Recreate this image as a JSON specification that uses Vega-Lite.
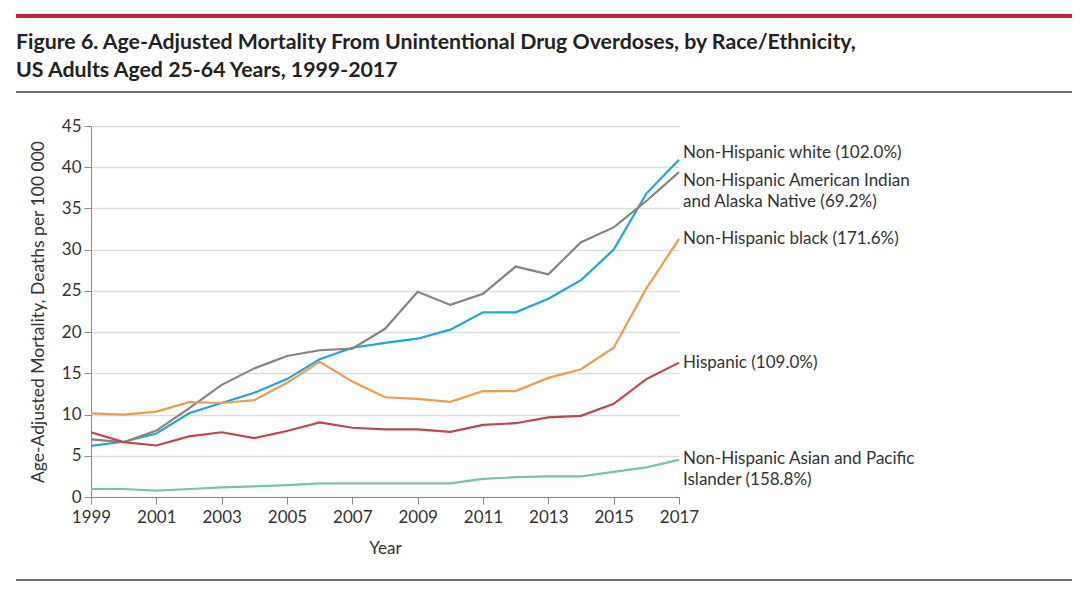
{
  "$schema": "https://vega.github.io/schema/vega-lite/v6.json",
  "padding": {"left": 14, "top": 14, "right": 0, "bottom": 0},
  "background": "white",
  "config": {
    "view": {"stroke": null},
    "font": "Lato",
    "concat": {"spacing": 0}
  },
  "datasets": {
    "series": [
      {"year":1999,"group":"white","value":6.2},{"year":2000,"group":"white","value":6.7},{"year":2001,"group":"white","value":7.7},{"year":2002,"group":"white","value":10.15},{"year":2003,"group":"white","value":11.4},{"year":2004,"group":"white","value":12.65},{"year":2005,"group":"white","value":14.3},{"year":2006,"group":"white","value":16.7},{"year":2007,"group":"white","value":18.1},{"year":2008,"group":"white","value":18.7},{"year":2009,"group":"white","value":19.2},{"year":2010,"group":"white","value":20.3},{"year":2011,"group":"white","value":22.4},{"year":2012,"group":"white","value":22.4},{"year":2013,"group":"white","value":24.05},{"year":2014,"group":"white","value":26.3},{"year":2015,"group":"white","value":30.0},{"year":2016,"group":"white","value":36.8},{"year":2017,"group":"white","value":40.9},
      {"year":1999,"group":"aian","value":7.0},{"year":2000,"group":"aian","value":6.65},{"year":2001,"group":"aian","value":8.05},{"year":2002,"group":"aian","value":10.75},{"year":2003,"group":"aian","value":13.6},{"year":2004,"group":"aian","value":15.6},{"year":2005,"group":"aian","value":17.1},{"year":2006,"group":"aian","value":17.8},{"year":2007,"group":"aian","value":18.0},{"year":2008,"group":"aian","value":20.4},{"year":2009,"group":"aian","value":24.9},{"year":2010,"group":"aian","value":23.3},{"year":2011,"group":"aian","value":24.65},{"year":2012,"group":"aian","value":27.95},{"year":2013,"group":"aian","value":27.0},{"year":2014,"group":"aian","value":30.9},{"year":2015,"group":"aian","value":32.7},{"year":2016,"group":"aian","value":35.9},{"year":2017,"group":"aian","value":39.4},
      {"year":1999,"group":"black","value":10.15},{"year":2000,"group":"black","value":10.0},{"year":2001,"group":"black","value":10.35},{"year":2002,"group":"black","value":11.5},{"year":2003,"group":"black","value":11.4},{"year":2004,"group":"black","value":11.75},{"year":2005,"group":"black","value":13.85},{"year":2006,"group":"black","value":16.4},{"year":2007,"group":"black","value":14.0},{"year":2008,"group":"black","value":12.1},{"year":2009,"group":"black","value":11.9},{"year":2010,"group":"black","value":11.55},{"year":2011,"group":"black","value":12.85},{"year":2012,"group":"black","value":12.85},{"year":2013,"group":"black","value":14.45},{"year":2014,"group":"black","value":15.5},{"year":2015,"group":"black","value":18.1},{"year":2016,"group":"black","value":25.3},{"year":2017,"group":"black","value":31.3},
      {"year":1999,"group":"hispanic","value":7.85},{"year":2000,"group":"hispanic","value":6.65},{"year":2001,"group":"hispanic","value":6.25},{"year":2002,"group":"hispanic","value":7.35},{"year":2003,"group":"hispanic","value":7.85},{"year":2004,"group":"hispanic","value":7.15},{"year":2005,"group":"hispanic","value":8.0},{"year":2006,"group":"hispanic","value":9.05},{"year":2007,"group":"hispanic","value":8.4},{"year":2008,"group":"hispanic","value":8.2},{"year":2009,"group":"hispanic","value":8.2},{"year":2010,"group":"hispanic","value":7.9},{"year":2011,"group":"hispanic","value":8.75},{"year":2012,"group":"hispanic","value":8.95},{"year":2013,"group":"hispanic","value":9.65},{"year":2014,"group":"hispanic","value":9.85},{"year":2015,"group":"hispanic","value":11.3},{"year":2016,"group":"hispanic","value":14.3},{"year":2017,"group":"hispanic","value":16.3},
      {"year":1999,"group":"asian","value":0.97},{"year":2000,"group":"asian","value":0.97},{"year":2001,"group":"asian","value":0.77},{"year":2002,"group":"asian","value":0.97},{"year":2003,"group":"asian","value":1.17},{"year":2004,"group":"asian","value":1.3},{"year":2005,"group":"asian","value":1.45},{"year":2006,"group":"asian","value":1.65},{"year":2007,"group":"asian","value":1.65},{"year":2008,"group":"asian","value":1.65},{"year":2009,"group":"asian","value":1.65},{"year":2010,"group":"asian","value":1.65},{"year":2011,"group":"asian","value":2.2},{"year":2012,"group":"asian","value":2.4},{"year":2013,"group":"asian","value":2.5},{"year":2014,"group":"asian","value":2.5},{"year":2015,"group":"asian","value":3.05},{"year":2016,"group":"asian","value":3.6},{"year":2017,"group":"asian","value":4.5}
    ],
    "labels": [
      {"group":"white","year":2017,"value":40.9,"label":"Non-Hispanic white (102.0%)"},
      {"group":"aian","year":2017,"value":39.4,"label":"Non-Hispanic American Indian\nand Alaska Native (69.2%)"},
      {"group":"black","year":2017,"value":31.3,"label":"Non-Hispanic black (171.6%)"},
      {"group":"hispanic","year":2017,"value":16.3,"label":"Hispanic (109.0%)"},
      {"group":"asian","year":2017,"value":4.5,"label":"Non-Hispanic Asian and Pacific\nIslander (158.8%)"}
    ]
  },
  "vconcat": [
    {
      "width": 1056,
      "height": 4,
      "data": {"values": [{}]},
      "mark": {"type": "rule", "color": "#c8203c", "strokeWidth": 4},
      "encoding": {"y": {"datum": 0.5, "type": "quantitative", "scale": {"domain": [0, 1]}, "axis": null}},
      "title": {
        "text": ["Figure 6. Age-Adjusted Mortality From Unintentional Drug Overdoses, by Race/Ethnicity,", "US Adults Aged 25-64 Years, 1999-2017"],
        "orient": "bottom",
        "anchor": "start",
        "frame": "group",
        "offset": 14,
        "font": "Lato",
        "fontSize": 21.3,
        "lineHeight": 28,
        "fontWeight": "bold",
        "color": "#222222"
      }
    },
    {
      "width": 1056,
      "height": 35,
      "data": {"values": [{}]},
      "mark": {"type": "rule", "color": "#707070", "strokeWidth": 2},
      "encoding": {"y": {"datum": 0.714, "type": "quantitative", "scale": {"domain": [0, 1]}, "axis": null}}
    },
    {
      "hconcat": [
        {
          "width": 13,
          "height": 1,
          "data": {"values": [{}]},
          "mark": {"type": "rule", "opacity": 0},
          "encoding": {}
        },
        {
          "width": 588,
          "height": 371,
          "layer": [
            {
              "data": {"name": "series"},
              "mark": {"type": "line", "strokeWidth": 2.2},
              "encoding": {
                "x": {
                  "field": "year", "type": "quantitative",
                  "scale": {"domain": [1999, 2017], "nice": false, "zero": false},
                  "axis": {
                    "values": [1999, 2001, 2003, 2005, 2007, 2009, 2011, 2013, 2015, 2017],
                    "format": "d", "title": "Year", "grid": false,
                    "domainColor": "#8a8a8a", "tickColor": "#8a8a8a", "tickSize": 7,
                    "labelFontSize": 17, "labelColor": "#333333", "labelPadding": 5,
                    "titleFontSize": 17, "titleFontWeight": "normal", "titleColor": "#333333", "titlePadding": 15,
                    "labelFlush": false
                  }
                },
                "y": {
                  "field": "value", "type": "quantitative",
                  "scale": {"domain": [0, 45], "nice": false},
                  "axis": {
                    "values": [0, 5, 10, 15, 20, 25, 30, 35, 40, 45],
                    "title": "Age-Adjusted Mortality, Deaths per 100 000",
                    "grid": true, "gridColor": "#dddddd", "gridWidth": 1.5,
                    "domainColor": "#8a8a8a", "tickColor": "#8a8a8a", "tickSize": 7,
                    "labelFontSize": 17, "labelColor": "#333333", "labelPadding": 3,
                    "titleFontSize": 17.5, "titleFontWeight": "normal", "titleColor": "#333333", "titlePadding": 14
                  }
                },
                "color": {
                  "field": "group", "type": "nominal", "legend": null,
                  "scale": {"domain": ["asian", "hispanic", "black", "aian", "white"], "range": ["#74c6a5", "#c8414f", "#f29c4a", "#8c8279", "#1aa9de"]}
                },
                "order": {"field": "year"}
              }
            },
            {
              "data": {"name": "labels"},
              "transform": [{"filter": "datum.group === 'white'"}],
              "mark": {"type": "text", "align": "left", "baseline": "middle", "dx": 4, "dy": -7, "fontSize": 17, "color": "#333333", "lineBreak": "\n", "lineHeight": 21},
              "encoding": {"x": {"field": "year", "type": "quantitative"}, "y": {"field": "value", "type": "quantitative"}, "text": {"field": "label"}}
            },
            {
              "data": {"name": "labels"},
              "transform": [{"filter": "datum.group === 'aian'"}],
              "mark": {"type": "text", "align": "left", "baseline": "middle", "dx": 4, "dy": 9, "fontSize": 17, "color": "#333333", "lineBreak": "\n", "lineHeight": 21},
              "encoding": {"x": {"field": "year", "type": "quantitative"}, "y": {"field": "value", "type": "quantitative"}, "text": {"field": "label"}}
            },
            {
              "data": {"name": "labels"},
              "transform": [{"filter": "datum.group === 'black' || datum.group === 'hispanic'"}],
              "mark": {"type": "text", "align": "left", "baseline": "middle", "dx": 4, "dy": 0, "fontSize": 17, "color": "#333333", "lineBreak": "\n", "lineHeight": 21},
              "encoding": {"x": {"field": "year", "type": "quantitative"}, "y": {"field": "value", "type": "quantitative"}, "text": {"field": "label"}}
            },
            {
              "data": {"name": "labels"},
              "transform": [{"filter": "datum.group === 'asian'"}],
              "mark": {"type": "text", "align": "left", "baseline": "middle", "dx": 4, "dy": -1, "fontSize": 17, "color": "#333333", "lineBreak": "\n", "lineHeight": 21},
              "encoding": {"x": {"field": "year", "type": "quantitative"}, "y": {"field": "value", "type": "quantitative"}, "text": {"field": "label"}}
            }
          ]
        }
      ]
    },
    {
      "width": 1056,
      "height": 24,
      "data": {"values": [{}]},
      "mark": {"type": "rule", "color": "#707070", "strokeWidth": 2},
      "encoding": {"y": {"datum": 0, "type": "quantitative", "scale": {"domain": [0, 1]}, "axis": null}}
    }
  ]
}
